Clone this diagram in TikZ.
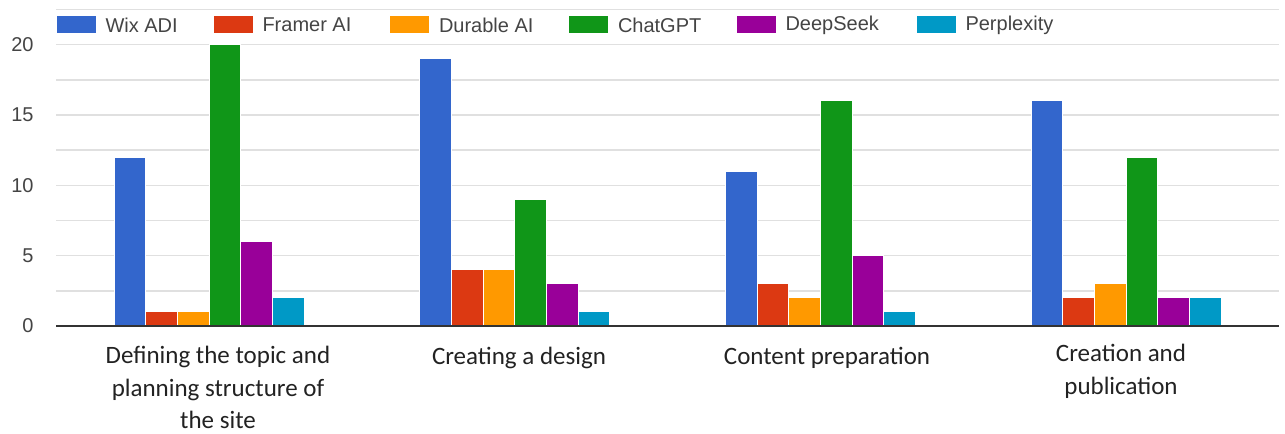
\documentclass[tikz,border=0pt]{standalone}
\usepackage{fontspec}
\setmainfont{Liberation Sans}
\newfontfamily\catfont{Carlito}

\tikzset{every picture/.style={line width=0.75pt}}
\tikzset{
	wix/.style={fill={rgb, 255:red, 51; green, 102; blue, 204 }, draw=white, line width=0.6},
	framer/.style={fill={rgb, 255:red, 220; green, 57; blue, 18 }, draw=white, line width=0.6},
	durable/.style={fill={rgb, 255:red, 255; green, 153; blue, 0 }, draw=white, line width=0.6},
	chatgpt/.style={fill={rgb, 255:red, 16; green, 150; blue, 24 }, draw=white, line width=0.6},
	deepseek/.style={fill={rgb, 255:red, 153; green, 0; blue, 153 }, draw=white, line width=0.6},
	perplexity/.style={fill={rgb, 255:red, 0; green, 153; blue, 198 }, draw=white, line width=0.6},
	grid/.style={draw={rgb, 255:red, 224; green, 224; blue, 224 }, line width=1.1},
	legendtext/.style={anchor=west, inner sep=0.75pt, text={rgb, 255:red, 68; green, 68; blue, 68 }, font=\fontsize{15}{18}\selectfont},
	ticktext/.style={anchor=east, inner sep=0.75pt, text={rgb, 255:red, 68; green, 68; blue, 68 }, font=\fontsize{15}{18}\selectfont},
	cattext/.style={inner sep=0.75pt, align=center, text={rgb, 255:red, 34; green, 34; blue, 34 }, font=\catfont\fontsize{18.75}{24.5}\selectfont}
}

\begin{document}
\begin{tikzpicture}[x=0.75pt,y=0.75pt,yscale=-1,xscale=1]
	\useasboundingbox (0,0) rectangle (1285,434); %set diagram to the size of the chart
	
	%Straight Lines: grid
	\draw [grid] (56,9.4) -- (1279,9.4) ;
	\draw [grid] (56,44.6) -- (1279,44.6) ;
	\draw [grid] (56,79.8) -- (1279,79.8) ;
	\draw [grid] (56,115) -- (1279,115) ;
	\draw [grid] (56,150.1) -- (1279,150.1) ;
	\draw [grid] (56,185.3) -- (1279,185.3) ;
	\draw [grid] (56,220.5) -- (1279,220.5) ;
	\draw [grid] (56,255.7) -- (1279,255.7) ;
	\draw [grid] (56,290.8) -- (1279,290.8) ;
	
	%Shape: Rectangle (Defining the topic)
	\draw [wix] (113.9,157.2) rectangle (145.6,326) ;
	\draw [framer] (145.6,311.9) rectangle (177.2,326) ;
	\draw [durable] (177.2,311.9) rectangle (208.9,326) ;
	\draw [chatgpt] (208.9,44.6) rectangle (240.6,326) ;
	\draw [deepseek] (240.6,241.6) rectangle (272.2,326) ;
	\draw [perplexity] (272.2,297.9) rectangle (303.9,326) ;
	%Shape: Rectangle (Creating a design)
	\draw [wix] (419.6,58.7) rectangle (451.3,326) ;
	\draw [framer] (451.3,269.7) rectangle (482.9,326) ;
	\draw [durable] (482.9,269.7) rectangle (514.6,326) ;
	\draw [chatgpt] (514.6,199.4) rectangle (546.3,326) ;
	\draw [deepseek] (546.3,283.8) rectangle (577.9,326) ;
	\draw [perplexity] (577.9,311.9) rectangle (609.6,326) ;
	%Shape: Rectangle (Content preparation)
	\draw [wix] (725.4,171.2) rectangle (757.1,326) ;
	\draw [framer] (757.1,283.8) rectangle (788.7,326) ;
	\draw [durable] (788.7,297.9) rectangle (820.4,326) ;
	\draw [chatgpt] (820.4,100.9) rectangle (852.1,326) ;
	\draw [deepseek] (852.1,255.7) rectangle (883.7,326) ;
	\draw [perplexity] (883.7,311.9) rectangle (915.4,326) ;
	%Shape: Rectangle (Creation and publication)
	\draw [wix] (1031.1,100.9) rectangle (1062.8,326) ;
	\draw [framer] (1062.8,297.9) rectangle (1094.4,326) ;
	\draw [durable] (1094.4,283.8) rectangle (1126.1,326) ;
	\draw [chatgpt] (1126.1,157.2) rectangle (1157.8,326) ;
	\draw [deepseek] (1157.8,297.9) rectangle (1189.4,326) ;
	\draw [perplexity] (1189.4,297.9) rectangle (1221.1,326) ;
	
	%Straight Lines: axis
	\draw [color={rgb, 255:red, 51; green, 51; blue, 51 }, line width=1.3] (56,326) -- (1279,326) ;
	
	% Text Node
	\draw (35,44.6) node [ticktext] (tick20) {20};
	% Text Node
	\draw (35,115) node [ticktext] (tick15) {15};
	% Text Node
	\draw (35,185.3) node [ticktext] (tick10) {10};
	% Text Node
	\draw (35,255.7) node [ticktext] (tick5) {5};
	% Text Node
	\draw (35,326) node [ticktext] (tick0) {0};
	
	%Shape: Rectangle (legend)
	\draw [wix] (56,15) rectangle (96,33) ;
	\draw [framer] (213,15) rectangle (253,33) ;
	\draw [durable] (389.5,15) rectangle (429.5,33) ;
	\draw [chatgpt] (568.5,15) rectangle (608.5,33) ;
	\draw [deepseek] (736,15) rectangle (776,33) ;
	\draw [perplexity] (916,15) rectangle (956,33) ;
	% Text Node
	\draw (104,25) node [legendtext] (legwix) {Wix ADI};
	% Text Node
	\draw (261,25) node [legendtext] (legframer) {Framer AI};
	% Text Node
	\draw (437.5,25) node [legendtext] (legdurable) {Durable AI};
	% Text Node
	\draw (616.5,25) node [legendtext] (legchatgpt) {ChatGPT};
	% Text Node
	\draw (784,25) node [legendtext] (legdeepseek) {DeepSeek};
	% Text Node
	\draw (964,25) node [legendtext] (legperplexity) {Perplexity};
	
	% Text Node
	\draw (218,387.5) node [cattext] (cattopic) {Defining the topic and\\planning structure of\\the site};
	% Text Node
	\draw (519,358) node [cattext] (catdesign) {Creating a design};
	% Text Node
	\draw (827,358) node [cattext] (catcontent) {Content preparation};
	% Text Node
	\draw (1121,371.5) node [cattext] (catpublish) {Creation and\\publication};
	
\end{tikzpicture}
\end{document}
